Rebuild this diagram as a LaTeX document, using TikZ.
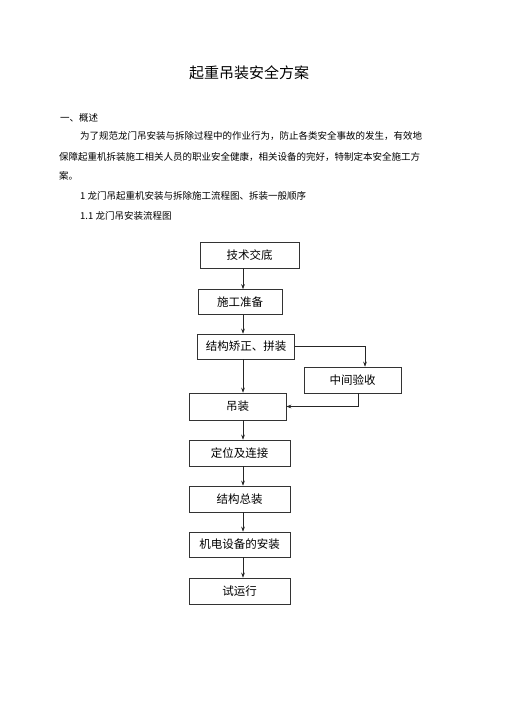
\documentclass[tikz,border=0pt]{standalone}
\usepackage{fontspec}
\setmainfont{Noto Sans CJK SC}
\usetikzlibrary{arrows.meta}
\begin{document}
\begin{tikzpicture}[x=1pt,y=-1pt,
  box/.style={draw=black!80,line width=0.6pt,minimum width=97pt,minimum height=26pt,inner sep=0pt,font=\fontsize{11.5}{12}\selectfont},
  arr/.style={draw=black!85,line width=0.6pt,-{Stealth[length=5pt,width=3.6pt]}},
  body/.style={anchor=west,inner sep=0pt,font=\fontsize{9.5}{10}\selectfont}]
\useasboundingbox[fill=white] (0,0) rectangle (505,714);
\node[inner sep=0pt,font=\fontsize{15}{16}\selectfont] (title) at (249,73) {起重吊装安全方案};
\node[body] (s1) at (60,118) {一、概述};
\node[body] (p1) at (80,136) {为了规范龙门吊安装与拆除过程中的作业行为，防止各类安全事故的发生，有效地};
\node[body] (p2) at (59,157) {保障起重机拆装施工相关人员的职业安全健康，相关设备的完好，特制定本安全施工方};
\node[body] (p3) at (59,176) {案。};
\node[body] (h1) at (80,196) {1\ 龙门吊起重机安装与拆除施工流程图、拆装一般顺序};
\node[body] (h2) at (80,216) {1.1 龙门吊安装流程图};

\coordinate (spine) at (243,0);
\coordinate (rx) at (365,0);
\coordinate (lx) at (358,0);

\node[box,minimum width=99pt] (a) at (249.5,255) {技术交底};
\node[box,minimum width=84pt,minimum height=25pt] (b) at (240,302) {施工准备};
\node[box,minimum width=97pt,minimum height=25pt] (c) at (246,346.5) {结构矫正、拼装};
\node[box] (d) at (352.5,380) {中间验收};
\node[box,minimum height=27pt] (e) at (237.5,406.5) {吊装};
\node[box,minimum width=101pt] (f) at (239.5,453) {定位及连接};
\node[box,minimum width=101pt] (g) at (239.5,499) {结构总装};
\node[box,minimum width=101pt,minimum height=25pt] (h) at (239.5,544.5) {机电设备的安装};
\node[box,minimum width=101pt] (i) at (239.5,591) {试运行};

\draw[arr] (a.south -| spine) -- (b.north -| spine);
\draw[arr] (b.south -| spine) -- (c.north -| spine);
\draw[arr] (c.south -| spine) -- (e.north -| spine);
\draw[arr] (e.south -| spine) -- (f.north -| spine);
\draw[arr] (f.south -| spine) -- (g.north -| spine);
\draw[arr] (g.south -| spine) -- (h.north -| spine);
\draw[arr] (h.south -| spine) -- (i.north -| spine);
\draw[arr] (c.east) -| (d.north -| rx);
\draw[arr] (d.south -| lx) |- (e.east);
\end{tikzpicture}
\end{document}
